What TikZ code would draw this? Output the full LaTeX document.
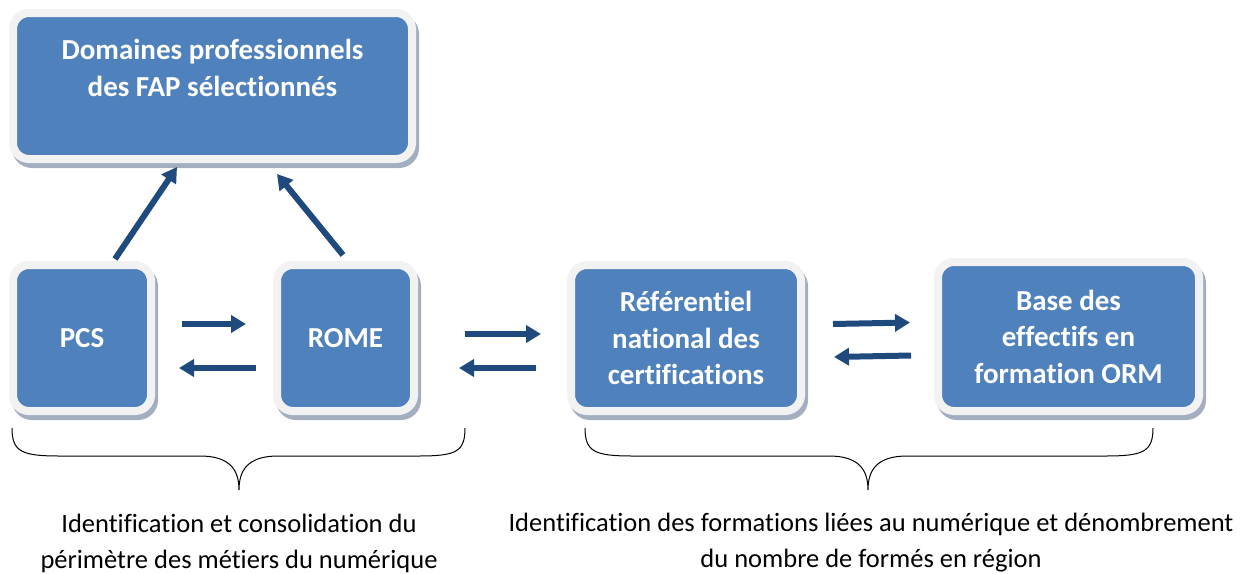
\documentclass[tikz,border=0pt]{standalone}
\usepackage{fontspec}
\setmainfont{Carlito}[Ligatures=NoCommon]
\usetikzlibrary{arrows.meta,shadows,decorations.pathreplacing,calc}
\definecolor{boxblue}{HTML}{4F81BD}
\definecolor{frame}{HTML}{F2F2F2}
\definecolor{shadowc}{HTML}{A3AFC0}
\definecolor{arrowc}{HTML}{1F4A7E}
\tikzset{
  blockbox/.style={fill=boxblue, draw=frame, line width=8pt, rounded corners=16pt,
    text=white, font=\fontsize{29}{36.5}\selectfont\bfseries, align=center,
    inner sep=0pt,
    general shadow={fill=shadowc, draw=shadowc, line width=8pt, shadow xshift=3pt, shadow yshift=-5pt}},
  arr/.style={draw=arrowc, line width=6pt, -{Triangle[length=15pt,width=17pt]}},
  brace/.style={draw=black, line width=1pt},
  caption/.style={font=\fontsize{26.5}{36}\selectfont, align=center, text=black, inner sep=0pt}
}
\begin{document}
\begin{tikzpicture}[x=1pt,y=-1pt]
\useasboundingbox (0,0) rectangle (1241,573);
\node[blockbox, minimum width=399pt, minimum height=146pt] (top) at (212.5,86) {Domaines professionnels\\des FAP sélectionnés\\\mbox{}};
\node[blockbox, minimum width=138pt, minimum height=146pt] (pcs) at (82,338) {PCS};
\node[blockbox, minimum width=137pt, minimum height=146pt] (rome) at (345.5,338) {ROME};
\node[blockbox, minimum width=230pt, minimum height=146pt] (ref) at (686,338) {Référentiel\\national des\\certifications};
\node[blockbox, minimum width=261pt, minimum height=149pt] (base) at (1068.5,336.5) {Base des\\effectifs en\\formation ORM};
% diagonal arrows
\coordinate (pcsout) at (115,259);
\coordinate (pcsin) at (177,167);
\coordinate (romeout) at (343,255);
\coordinate (romein) at (277,174);
\draw[arr] (pcsout) -- (pcsin);
\draw[arr] (romeout) -- (romein);
% horizontal arrows
\draw[arr] ([yshift=14pt,xshift=27pt]pcs.east) -- ([yshift=14pt,xshift=-27pt]rome.west);
\draw[arr] ([yshift=-30pt,xshift=-17pt]rome.west) -- ([yshift=-30pt,xshift=24pt]pcs.east);
\draw[arr] ([yshift=4pt,xshift=47pt]rome.east) -- ([yshift=4pt,xshift=-26pt]ref.west);
\draw[arr] ([yshift=-30pt,xshift=-31pt]ref.west) -- ([yshift=-30pt,xshift=41pt]rome.east);
\draw[arr] ([yshift=14pt,xshift=28pt]ref.east) -- ([yshift=14pt,xshift=-24pt]base.west);
\draw[arr] ([yshift=-19pt,xshift=-23pt]base.west) -- ([yshift=-19pt,xshift=29pt]ref.east);
% braces
\coordinate (b1l) at (12,428);
\coordinate (b1r) at (465,428);
\coordinate (b1t) at (239,490);
\coordinate (b2l) at (585,428);
\coordinate (b2r) at (1153,428);
\coordinate (b2t) at (868,490);
\draw[brace] (b1l) .. controls (12,452) and (22,456) .. (60,456) -- (200,456)
  .. controls (230,456) and (239,470) .. (b1t)
  .. controls (239,470) and (248,456) .. (278,456) -- (418,456)
  .. controls (456,456) and (465,452) .. (b1r);
\draw[brace] (b2l) .. controls (585,452) and (595,456) .. (633,456) -- (829,456)
  .. controls (859,456) and (868,470) .. (b2t)
  .. controls (868,470) and (877,456) .. (907,456) -- (1105,456)
  .. controls (1143,456) and (1153,452) .. (b2r);
\node[caption] (cap1) at (239,543) {Identification et consolidation du\\périmètre des métiers du numérique};
\node[caption] (cap2) at (871,543) {Identification des formations liées au numérique et dénombrement\\du nombre de formés en région};
\end{tikzpicture}
\end{document}
